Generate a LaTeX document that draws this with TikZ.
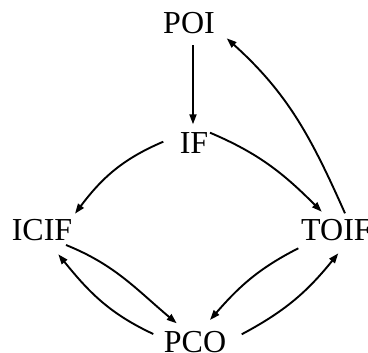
\documentclass[tikz,border=0pt]{standalone}
\usepackage{fontspec}
\setmainfont{Liberation Serif}
\usetikzlibrary{arrows.meta,calc}
\begin{document}
\begin{tikzpicture}[x=1pt,y=1pt,
  lbl/.style={anchor=base,inner sep=0pt,font=\fontsize{32}{38}\selectfont},
  edge/.style={line width=1.9pt,-{Triangle[length=10pt,width=7pt]}}]
\useasboundingbox (0,0) rectangle (368,353);
\node[lbl] (POI) at (189,319.7) {POI};
\node[lbl] (IF) at (194,199.7) {IF};
\node[lbl] (ICIF) at (42,112.5) {ICIF};
\node[lbl] (TOIF) at (336.5,112) {TOIF};
\node[lbl] (PCO) at (195,0.5) {PCO};
% POI -> IF
\draw[edge] ($(POI.base)+(4,-12)$) -- ($(IF.base)+(-1,29)$);
% IF -> ICIF
\draw[edge] ($(IF.base)+(-30.7,11.6)$) to[out=203,in=53] ($(ICIF.base)+(33,26.8)$);
% IF -> TOIF
\draw[edge] ($(IF.base)+(16,20.6)$) to[out=-23,in=135] ($(TOIF.base)+(-14.8,29.3)$);
% TOIF -> POI
\draw[edge] ($(TOIF.base)+(8.5,27.7)$) to[out=114,in=318] ($(POI.base)+(37.7,-5)$);
% ICIF -> PCO
\draw[edge] ($(ICIF.base)+(24,-4.5)$) to[out=-22,in=140] ($(PCO.base)+(-18.3,29.2)$);
% PCO -> ICIF
\draw[edge] ($(PCO.base)+(-41.7,18.5)$) to[out=155,in=309] ($(ICIF.base)+(16.3,-13.8)$);
% TOIF -> PCO
\draw[edge] ($(TOIF.base)+(-38.2,-7.3)$) to[out=207,in=49] ($(PCO.base)+(15,32.5)$);
% PCO -> TOIF
\draw[edge] ($(PCO.base)+(46.7,18.2)$) to[out=28,in=231] ($(TOIF.base)+(1.8,-12.3)$);
\end{tikzpicture}
\end{document}
